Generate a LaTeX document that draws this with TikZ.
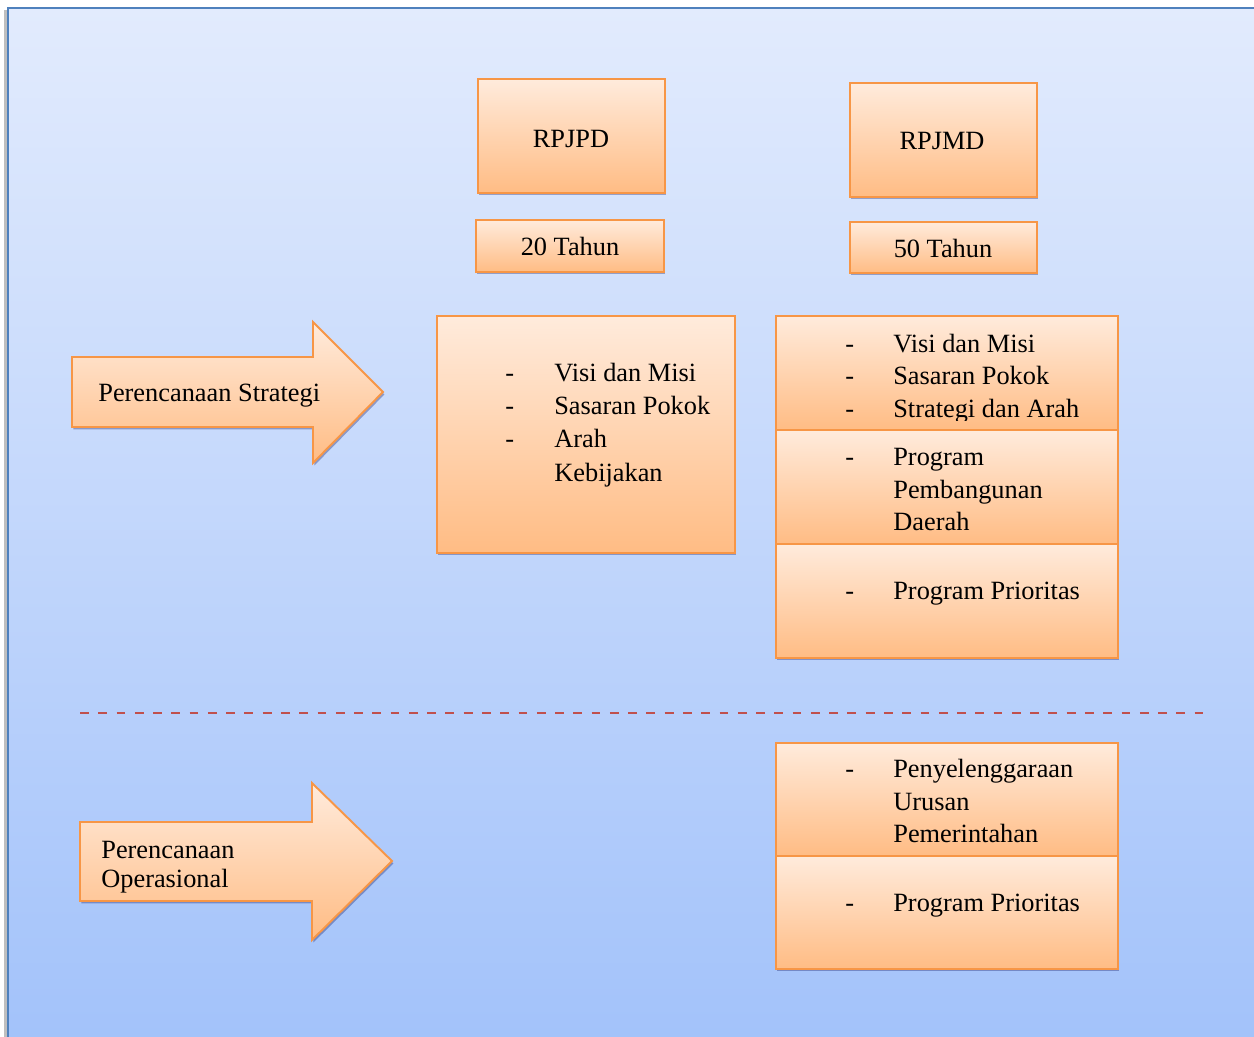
\documentclass[tikz,border=0pt]{standalone}
\usepackage{fontspec}
\setmainfont{Liberation Serif}
\usetikzlibrary{shadows,fit}
\definecolor{frameblue}{RGB}{79,129,189}
\definecolor{bgtop}{RGB}{226,235,253}
\definecolor{bgbot}{RGB}{162,194,250}
\definecolor{boxtop}{RGB}{255,235,220}
\definecolor{boxbot}{RGB}{255,188,132}
\definecolor{boxline}{RGB}{247,150,70}
\definecolor{sepred}{RGB}{192,80,77}
\tikzset{
  pshadow/.style={drop shadow={shadow xshift=0.8pt, shadow yshift=-1.4pt, opacity=0.3, fill=black!70!blue}},
  pbox/.style={draw=boxline, line width=1.1pt, top color=boxtop, bottom color=boxbot, inner sep=0pt, pshadow},
  parrow/.style={draw=boxline, line width=1.1pt, top color=boxtop, bottom color=boxbot, pshadow},
  lbl/.style={font=\fontsize{15pt}{19pt}\selectfont, inner sep=0pt, anchor=base west, text=black},
  clbl/.style={lbl, anchor=base},
  sepline/.style={draw=sepred, line width=1.1pt, dash pattern=on 5pt off 5.4pt},
}
\begin{document}
\begin{tikzpicture}[x=0.02cm, y=-0.02cm]
\useasboundingbox (0,0) rectangle (1254,1036);
\fill[white] (0,0) rectangle (1254,1036);
% frame
\draw[black!25, line width=2pt] (6,10) -- (6,1040);
\path[top color=bgtop, bottom color=bgbot, draw=frameblue, line width=1.3pt] (8,8) rectangle (1272,1052);

% top boxes
\node[pbox, fit={(478,79) (665,193)}] (rpjpd) {};
\node[clbl] (rpjpdT) at (571,147) {RPJPD};
\node[pbox, fit={(476,220) (664,272)}] (t20) {};
\node[clbl] (t20T) at (570,255) {20 Tahun};
\node[pbox, fit={(850,83) (1037,197)}] (rpjmd) {};
\node[clbl] (rpjmdT) at (942,149) {RPJMD};
\node[pbox, fit={(850,222) (1037,273)}] (t50) {};
\node[clbl] (t50T) at (943,257) {50 Tahun};

% left big box
\node[pbox, fit={(437,316) (735,553)}] (lbox) {};
\node[lbl] (lboxT) at (505,381) {\begin{tabular}[t]{@{}p{0.98cm}@{}l@{}}
-& Visi dan Misi\\
-& Sasaran Pokok\\
-& Arah\\
 & Kebijakan
\end{tabular}};

% right stack (upper)
\node[pbox, fit={(776,316) (1118,430)}] (r1) {};
\begin{scope}
\clip (776,316) rectangle (1118,420);
\node[lbl] (r1T) at (845,352) {\begin{tabular}[t]{@{}p{0.96cm}@{}l@{}}
-& Visi dan Misi\\[-0.5pt]
-& Sasaran Pokok\\[-0.5pt]
-& Strategi dan Arah
\end{tabular}};
\end{scope}
\node[pbox, fit={(776,430) (1118,544)}] (r2) {};
\node[lbl] (r2T) at (845,465) {\begin{tabular}[t]{@{}p{0.96cm}@{}l@{}}
-& Program\\
 & Pembangunan\\[-0.5pt]
 & Daerah
\end{tabular}};
\node[pbox, fit={(776,544) (1118,658)}] (r3) {};
\node[lbl] (r3T) at (845,599) {\begin{tabular}[t]{@{}p{0.96cm}@{}l@{}}
-& Program Prioritas
\end{tabular}};

% separator
\coordinate (sepL) at (80,713);
\coordinate (sepR) at (1208,713);
\draw[sepline] (sepL) -- (sepR);

% right stack (lower)
\node[pbox, fit={(776,743) (1118,856)}] (r4) {};
\node[lbl] (r4T) at (845,777) {\begin{tabular}[t]{@{}p{0.96cm}@{}l@{}}
-& Penyelenggaraan\\
 & Urusan\\[-0.5pt]
 & Pemerintahan
\end{tabular}};
\node[pbox, fit={(776,856) (1118,969)}] (r5) {};
\node[lbl] (r5T) at (845,911) {\begin{tabular}[t]{@{}p{0.96cm}@{}l@{}}
-& Program Prioritas
\end{tabular}};

% arrows
\path[parrow] (72,357) -- (313,357) -- (313,322) -- (383,392) -- (313,463) -- (313,427) -- (72,427) -- cycle;
\node[lbl] (a1T) at (98,401) {Perencanaan Strategi};
\path[parrow] (80,822) -- (312,822) -- (312,783) -- (392,861) -- (312,940) -- (312,901) -- (80,901) -- cycle;
\node[lbl, font=\fontsize{15pt}{17pt}\selectfont] (a2T) at (101,858) {\begin{tabular}[t]{@{}l@{}}
Perencanaan\\
Operasional
\end{tabular}};
\end{tikzpicture}
\end{document}
